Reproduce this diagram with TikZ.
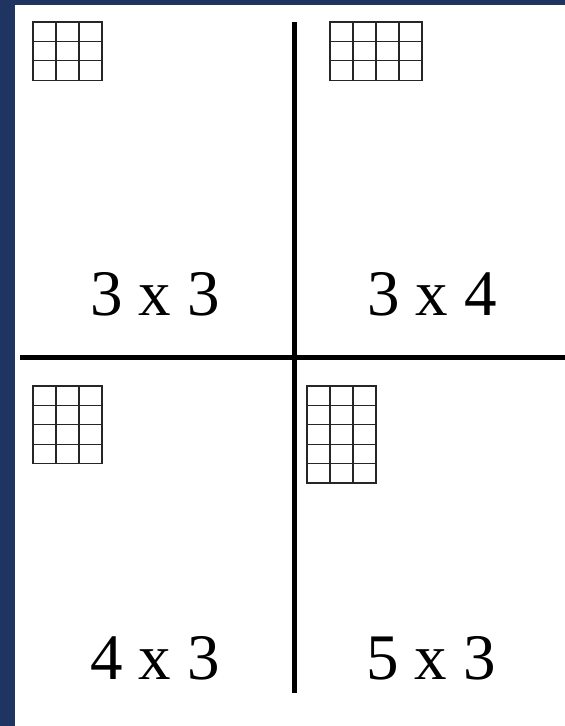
\documentclass[tikz,border=0pt]{standalone}
\usepackage{fontspec}
\setmainfont{Liberation Serif}
\definecolor{navy}{HTML}{1F3461}
\newcommand{\cellgrid}[5]{% x0, y0, cols, rows, name
  \node[cellbox,minimum width=23*#3,minimum height=19.4*#4] (#5) at (#1+11.5*#3,#2+9.7*#4) {};
  \foreach \i in {1,...,\numexpr#3-1\relax} {\draw[gridline] (#1+23*\i,#2) -- (#1+23*\i,#2+19.4*#4);}
  \foreach \j in {1,...,\numexpr#4-1\relax} {\draw[gridline] (#1,#2+19.4*\j) -- (#1+23*#3,#2+19.4*\j);}
}
\begin{document}
\begin{tikzpicture}[x=1pt,y=-1pt,
  gridline/.style={draw=black!85,line width=1.2pt},
  cellbox/.style={draw=black!85,line width=1.2pt,inner sep=0pt,outer sep=0pt},
  divider/.style={draw=black,line width=5pt},
  label/.style={font=\fontsize{65}{70}\selectfont,anchor=base,inner sep=0pt}]
\useasboundingbox (0,0) rectangle (565,726);
\fill[navy] (0,0) rectangle (565,726);
\fill[white] (15,5) rectangle (565,726);
% dividers
\coordinate (vtop) at (294.5,22);
\coordinate (vbot) at (294.5,693);
\coordinate (hl) at (20,357);
\coordinate (hr) at (565,357);
\draw[divider] (vtop) -- (vbot);
\draw[divider] (hl) -- (hr);
% grids
\cellgrid{33}{22}{3}{3}{g1}
\cellgrid{330}{22}{4}{3}{g2}
\cellgrid{33}{386}{3}{4}{g3}
\cellgrid{307}{386}{3}{5}{g4}
% labels
\node[label] (t1) at (155,315) {3 x 3};
\node[label] (t2) at (432,315) {3 x 4};
\node[label] (t3) at (155,679) {4 x 3};
\node[label] (t4) at (431,679) {5 x 3};
\end{tikzpicture}
\end{document}
